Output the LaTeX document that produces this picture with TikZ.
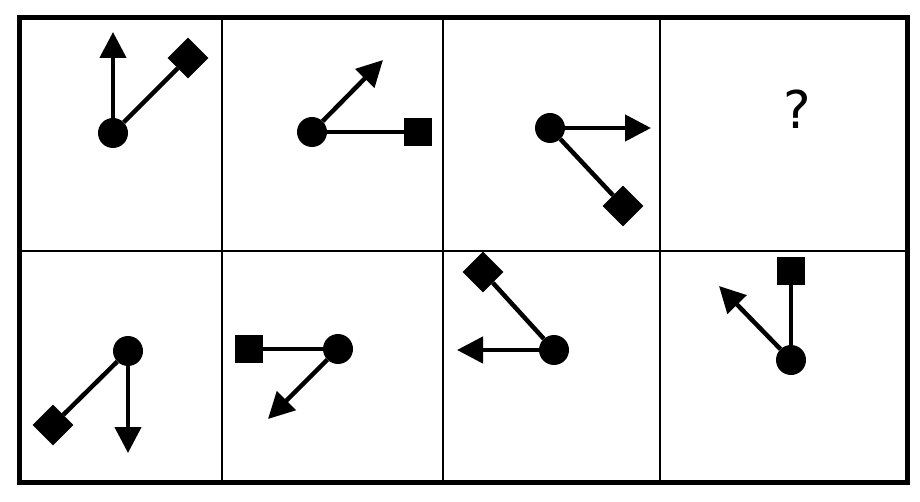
\documentclass[tikz,border=0pt]{standalone}
\usepackage{fontspec}
\setsansfont{DejaVu Sans}
\usetikzlibrary{shapes.geometric,arrows.meta}

\tikzset{
  hub/.style={circle,fill=black,inner sep=0pt,minimum size=30pt},
  gem/.style={diamond,fill=black,inner sep=0pt,minimum size=41pt},
  block/.style={rectangle,fill=black,inner sep=0pt,minimum size=28pt},
  link/.style={line width=4.5pt},
  pointer/.style={line width=4.5pt,-{Triangle[length=26pt,width=26pt]}}
}

\begin{document}
\begin{tikzpicture}[x=1pt,y=-1pt]
        \useasboundingbox (0,0) rectangle (920,502);

        % Draw the grid
        \draw[line width=5pt] (19,18) rectangle (907,482);
        \draw[line width=2.5pt] (19,251) -- (907,251);
        \foreach \x in {222,443,660}
            \draw[line width=2.5pt] (\x,18) -- (\x,482);

        % Top row
        \node[hub] (c1) at (113,133) {};
        \node[gem] (d1) at (188,58) {};
        \coordinate (a1) at (113,32);
        \draw[link] (c1) -- (d1);
        \draw[pointer] (c1) -- (a1);

        \node[hub] (c2) at (312,132) {};
        \node[block] (s2) at (418,132) {};
        \coordinate (a2) at (383,60);
        \draw[link] (c2) -- (s2);
        \draw[pointer] (c2) -- (a2);

        \node[hub] (c3) at (550,128) {};
        \node[gem] (d3) at (623,206) {};
        \coordinate (a3) at (651,128);
        \draw[link] (c3) -- (d3);
        \draw[pointer] (c3) -- (a3);

        \node[font=\sffamily\fontsize{52}{60}\selectfont] (q) at (797,109) {?};

        % Bottom row
        \node[hub] (c5) at (128,351) {};
        \node[gem] (d5) at (53,425) {};
        \coordinate (a5) at (128,453);
        \draw[link] (c5) -- (d5);
        \draw[pointer] (c5) -- (a5);

        \node[hub] (c6) at (338,349) {};
        \node[block] (s6) at (249,349) {};
        \coordinate (a6) at (268,419);
        \draw[link] (c6) -- (s6);
        \draw[pointer] (c6) -- (a6);

        \node[hub] (c7) at (554,350) {};
        \node[gem] (d7) at (483,272) {};
        \coordinate (a7) at (457,350);
        \draw[link] (c7) -- (d7);
        \draw[pointer] (c7) -- (a7);

        \node[hub] (c8) at (791,360) {};
        \node[block] (s8) at (791,271) {};
        \coordinate (a8) at (719,286);
        \draw[link] (c8) -- (s8);
        \draw[pointer] (c8) -- (a8);

    \end{tikzpicture}
\end{document}
